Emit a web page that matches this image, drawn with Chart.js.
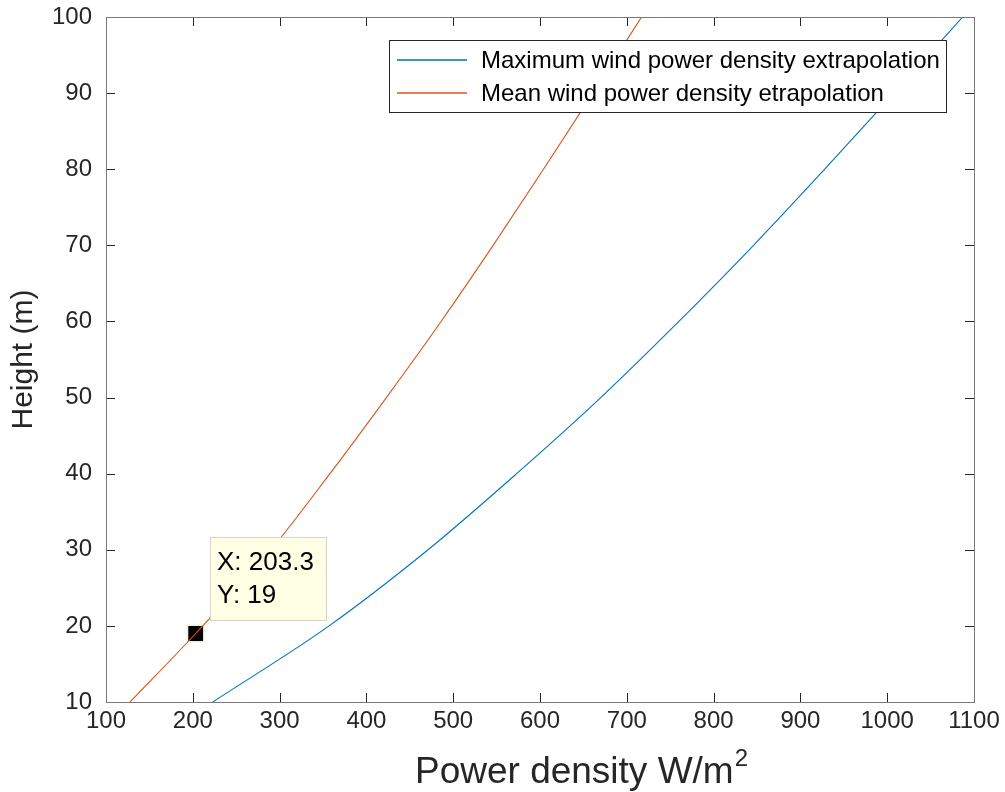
<!DOCTYPE html>
<html>
<head>
<meta charset="utf-8">
<script src="https://cdn.jsdelivr.net/npm/chart.js@4.4.1/dist/chart.umd.min.js"></script>
<style>
  html, body { margin: 0; padding: 0; background: #fff; }
  #wrap { width: 1005px; height: 792px; }
</style>
</head>
<body>
<div id="wrap"><canvas id="chart" width="1005" height="792"></canvas></div>
<script>
// values
var maxHeights = [10, 20, 30, 40, 50, 60, 70, 80, 90, 100]
var maxDensity = [223, 357, 471, 573, 670, 760, 846, 928, 1008, 1087]
var meanHeights = [10, 19, 30, 40, 50, 60, 70, 80, 90, 100]
var meanDensity = [127.6, 203.3, 290, 358, 423, 486, 546, 604, 661, 717]
var tipPoint = { x: 203.3, y: 19 }
var xTicks = [100, 200, 300, 400, 500, 600, 700, 800, 900, 1000, 1100]
var yTicks = [10, 20, 30, 40, 50, 60, 70, 80, 90, 100]

var FONT = '"Liberation Sans", Arial, sans-serif'
var TEXT = '#262626'
var AXIS = '#262626'

function toPoints(xs, ys) {
  return xs.map(function (x, i) { return { x: x, y: ys[i] } })
}

// box on all four sides, MATLAB style ticks pointing inward
var boxTicks = {
  id: 'boxTicks',
  afterDatasetsDraw: function (chart) {
    var ctx = chart.ctx
    var a = chart.chartArea
    var xs = chart.scales.x
    var ys = chart.scales.y
    var len = 9
    ctx.save()
    ctx.strokeStyle = AXIS
    ctx.lineWidth = 1
    ctx.beginPath()
    xTicks.forEach(function (v) {
      var px = Math.round(xs.getPixelForValue(v)) + 0.5
      ctx.moveTo(px, a.bottom); ctx.lineTo(px, a.bottom - len)
      ctx.moveTo(px, a.top); ctx.lineTo(px, a.top + len)
    })
    yTicks.forEach(function (v) {
      var py = Math.round(ys.getPixelForValue(v)) + 0.5
      ctx.moveTo(a.left, py); ctx.lineTo(a.left + len, py)
      ctx.moveTo(a.right, py); ctx.lineTo(a.right - len, py)
    })
    ctx.stroke()
    ctx.strokeStyle = '#7a7a7a'
    ctx.strokeRect(Math.round(a.left) + 0.5, Math.round(a.top) + 0.5,
      Math.round(a.right - a.left), Math.round(a.bottom - a.top))
    ctx.restore()
  }
}

// x axis title with a real superscript
var xTitle = {
  id: 'xTitle',
  afterDraw: function (chart) {
    var ctx = chart.ctx
    var a = chart.chartArea
    ctx.save()
    ctx.fillStyle = TEXT
    ctx.textBaseline = 'alphabetic'
    ctx.textAlign = 'left'
    ctx.font = '37px ' + FONT
    var main = 'Power density W/m'
    var w1 = ctx.measureText(main).width
    ctx.font = '24px ' + FONT
    var w2 = ctx.measureText('2').width
    var cx = (a.left + a.right) / 2 + 41
    var x0 = cx - (w1 + w2) / 2
    var base = a.bottom + 81
    ctx.font = '37px ' + FONT
    ctx.fillText(main, x0, base)
    ctx.font = '24px ' + FONT
    ctx.fillText('2', x0 + w1 + 1, base - 17)
    ctx.restore()
  }
}

// legend box in the top right corner of the axes
var boxLegend = {
  id: 'boxLegend',
  afterDraw: function (chart) {
    var ctx = chart.ctx
    var a = chart.chartArea
    var sets = chart.data.datasets.filter(function (d) { return d.label })
    ctx.save()
    ctx.font = '24px ' + FONT
    var textW = 0
    sets.forEach(function (d) { textW = Math.max(textW, ctx.measureText(d.label).width) })
    var w = Math.round(8 + 70 + 14 + textW + 6)
    var rowH = 33
    var h = 72
    var right = Math.round(a.right) - 28
    var left = right - w
    var top = Math.round(a.top) + 23
    ctx.fillStyle = '#fff'
    ctx.fillRect(left, top, w, h)
    ctx.strokeStyle = '#262626'
    ctx.lineWidth = 1
    ctx.strokeRect(left + 0.5, top + 0.5, w, h)
    sets.forEach(function (d, i) {
      var cy = top + 20 + i * rowH
      ctx.strokeStyle = d.borderColor
      ctx.lineWidth = 1.5
      ctx.beginPath()
      ctx.moveTo(left + 8, cy); ctx.lineTo(left + 78, cy)
      ctx.stroke()
      ctx.fillStyle = '#000'
      ctx.textBaseline = 'middle'
      ctx.textAlign = 'left'
      ctx.fillText(d.label, left + 92, cy + 1)
    })
    ctx.restore()
  }
}

// MATLAB data tip text box next to the marker
var dataTip = {
  id: 'dataTip',
  afterDraw: function (chart) {
    var ctx = chart.ctx
    var px = chart.scales.x.getPixelForValue(tipPoint.x)
    var py = chart.scales.y.getPixelForValue(tipPoint.y)
    var left = Math.round(px) + 14
    var top = Math.round(py) - 97
    ctx.save()
    ctx.fillStyle = '#ffffe6'
    ctx.fillRect(left, top, 116, 83)
    ctx.strokeStyle = '#d6d6c8'
    ctx.lineWidth = 1
    ctx.strokeRect(left + 0.5, top + 0.5, 116, 83)
    ctx.fillStyle = '#000'
    ctx.font = '26px ' + FONT
    ctx.textBaseline = 'middle'
    ctx.fillText('X: 203.3', left + 7, top + 26)
    ctx.fillText('Y: 19', left + 7, top + 59)
    ctx.restore()
  }
}

new Chart(document.getElementById('chart'), {
  type: 'scatter',
  data: {
    datasets: [{
        label: 'Maximum wind power density extrapolation',
        data: toPoints(maxDensity, maxHeights),
        showLine: true,
        borderColor: '#0072BD',
        borderWidth: 1.1,
        pointRadius: 0,
        cubicInterpolationMode: 'monotone'
      },
      {
        label: 'Mean wind power density etrapolation',
        data: toPoints(meanDensity, meanHeights),
        showLine: true,
        borderColor: '#D95319',
        borderWidth: 1.1,
        pointRadius: 0,
        cubicInterpolationMode: 'monotone'
      },
      {
        label: '',
        data: [tipPoint],
        pointStyle: 'rect',
        pointRadius: 11.5,
        backgroundColor: '#000',
        borderColor: '#f3f0c8',
        borderWidth: 1.5
      }
    ]
  },
  options: {
    responsive: false,
    animation: false,
    events: [],
    layout: {
      padding: { left: 0, top: 17, right: 31, bottom: 0 }
    },
    plugins: {
      legend: { display: false },
      tooltip: { enabled: false }
    },
    scales: {
      x: {
        type: 'linear',
        min: 100,
        max: 1100,
        afterBuildTicks: function (scale) {
          scale.ticks = xTicks.map(function (v) { return { value: v } })
        },
        afterFit: function (scale) {
          scale.height = 90
          scale.paddingLeft = 0
          scale.paddingRight = 0
        },
        grid: { display: true, drawOnChartArea: false, drawTicks: false },
        border: { display: false },
        ticks: {
          color: TEXT,
          padding: 5,
          maxRotation: 0,
          font: { family: FONT, size: 24 },
          callback: function (v) { return String(v) }
        }
      },
      y: {
        type: 'linear',
        min: 10,
        max: 100,
        afterBuildTicks: function (scale) {
          scale.ticks = yTicks.map(function (v) { return { value: v } })
        },
        afterFit: function (scale) {
          scale.width = 106
          scale.paddingTop = 0
          scale.paddingBottom = 0
        },
        grid: { display: true, drawOnChartArea: false, drawTicks: false },
        border: { display: false },
        ticks: {
          color: TEXT,
          padding: 14,
          font: { family: FONT, size: 24 },
          callback: function (v) { return String(v) }
        },
        title: {
          display: true,
          text: 'Height (m)',
          color: TEXT,
          padding: { top: 6, bottom: 0 },
          font: { family: FONT, size: 30 }
        }
      }
    }
  },
  plugins: [boxTicks, boxLegend, dataTip, xTitle]
});
</script>
</body>
</html>
